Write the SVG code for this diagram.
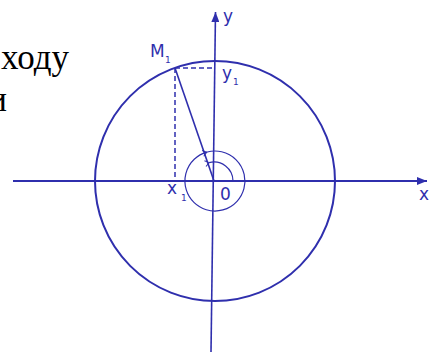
<svg xmlns="http://www.w3.org/2000/svg" width="430" height="352" viewBox="0 0 430 352">
<style>
.ln{stroke:#2f2fad;fill:none}
.lbl{font-family:"DejaVu Sans",Verdana,sans-serif;fill:#2f2fad;font-size:17px}
.sub{font-family:"DejaVu Sans",Verdana,sans-serif;fill:#2f2fad;font-size:9px}
.txt{font-family:"Liberation Serif","Times New Roman",serif;fill:#000;font-size:35px}
</style>
<defs>
<marker id="arr" markerWidth="12" markerHeight="8" refX="10" refY="4" orient="auto" markerUnits="userSpaceOnUse">
<path d="M0,0 L10,4 L0,8 Z" fill="#2f2fad"/>
</marker>
<marker id="chev" markerWidth="8" markerHeight="8" refX="1" refY="4" orient="auto" markerUnits="userSpaceOnUse">
<path d="M5,1 L1,4 L5,7" fill="none" stroke="#2f2fad" stroke-width="1"/>
</marker>
</defs>
<g id="text">
<text class="txt" x="69" y="69" text-anchor="end">ходу</text>
<text class="txt" x="7" y="111" text-anchor="end">и</text>
</g>
<g id="connectors">
<line class="ln" x1="13" y1="181" x2="427" y2="181" stroke-width="1.8" marker-end="url(#arr)"/>
<line class="ln" x1="211" y1="352" x2="215.5" y2="12" stroke-width="1.6" marker-end="url(#arr)"/>
<line class="ln" x1="175" y1="68" x2="214" y2="181" stroke-width="1.6"/>
<line class="ln" x1="175" y1="68" x2="175" y2="181" stroke-width="1.5" stroke-dasharray="5,3"/>
<line class="ln" x1="175" y1="68" x2="215" y2="68" stroke-width="1.5" stroke-dasharray="5,3"/>
</g>
<g id="circle">
<circle class="ln" cx="215" cy="181" r="120" stroke-width="2"/>
</g>
<g id="angle">
<path class="ln" d="M206.73,152.16 A30,30 0 1 0 207.24,152.02" stroke-width="1.2"/>
<path class="ln" d="M207.24,152.02 l-0.5,0.15" stroke-width="1.2" marker-end="url(#chev)"/>
<path class="ln" d="M233,181 A19,19 0 0 0 209.1,162.6" stroke-width="1.2" marker-end="url(#chev)"/>
</g>
<g id="labels">
<text class="lbl" x="223" y="22">y</text>
<text class="lbl" x="419" y="200">x</text>
<text class="lbl" x="220" y="200">0</text>
<text class="lbl" x="150" y="57">M</text>
<text class="sub" x="165" y="63">1</text>
<text class="lbl" x="222" y="79">y</text>
<text class="sub" x="233" y="85">1</text>
<text class="lbl" x="167" y="194">x</text>
<text class="sub" x="181" y="201">1</text>
</g>
</svg>
